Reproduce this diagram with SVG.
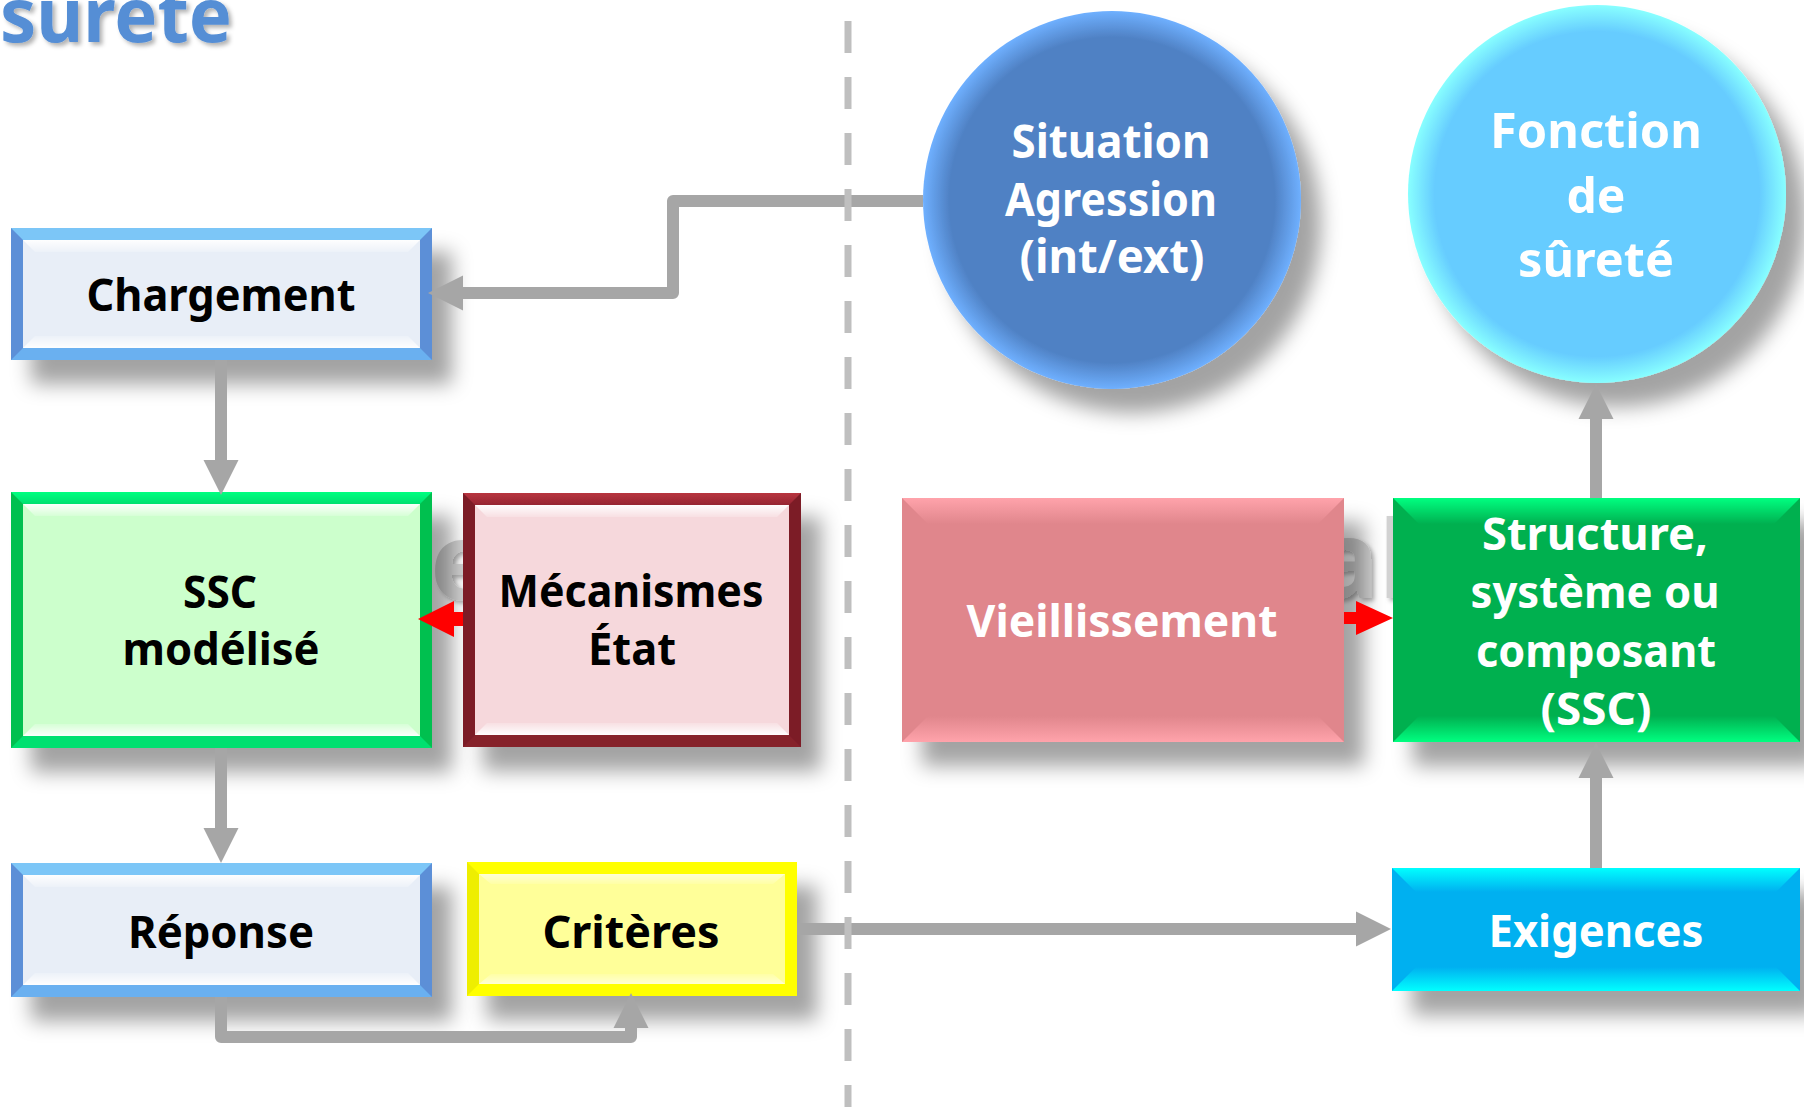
<svg xmlns="http://www.w3.org/2000/svg" width="1804" height="1107" viewBox="0 0 1804 1107">
<defs>
<style>
.t{font-family:"Noto Sans","Open Sans","DejaVu Sans",sans-serif;font-weight:bold;text-anchor:middle}
.tb{fill:#000;font-size:45px}
.tw{fill:#fff;font-size:45px}
.tc{fill:#fff;font-size:46px}
.tf{fill:#fff;font-size:49px}
.ghost{font-family:"Noto Sans","DejaVu Sans",sans-serif;font-weight:bold;font-size:108px;fill:#d2d2d2}
.conn{fill:none;stroke:#a6a6a6;stroke-width:12;stroke-linejoin:round}
.red{fill:#ff0000}
.dash{stroke:#bfbfbf;stroke-width:7;stroke-dasharray:32 24;fill:none}
</style>
<filter id="sh" x="-20%" y="-20%" width="150%" height="160%">
<feDropShadow dx="20" dy="24" stdDeviation="10" flood-color="#000" flood-opacity="0.36"/>
</filter>
<filter id="shs" x="-10%" y="-30%" width="130%" height="180%">
<feDropShadow dx="3" dy="3" stdDeviation="2" flood-color="#000" flood-opacity="0.3"/>
</filter>
<linearGradient id="wTop" x1="0" y1="0" x2="0" y2="1"><stop offset="0" stop-color="#fff" stop-opacity="0.95"/><stop offset="1" stop-color="#fff" stop-opacity="0.2"/></linearGradient>
<linearGradient id="wBot" x1="0" y1="1" x2="0" y2="0"><stop offset="0" stop-color="#fff" stop-opacity="0.95"/><stop offset="1" stop-color="#fff" stop-opacity="0.2"/></linearGradient>
<linearGradient id="pkT" x1="0" y1="0" x2="0" y2="1"><stop offset="0" stop-color="#ffa3ab"/><stop offset="1" stop-color="#e0868c"/></linearGradient>
<linearGradient id="pkB" x1="0" y1="1" x2="0" y2="0"><stop offset="0" stop-color="#ffa3ab"/><stop offset="1" stop-color="#e0868c"/></linearGradient>
<linearGradient id="gnT" x1="0" y1="0" x2="0" y2="1"><stop offset="0" stop-color="#00ff80"/><stop offset="1" stop-color="#00b050"/></linearGradient>
<linearGradient id="gnB" x1="0" y1="1" x2="0" y2="0"><stop offset="0" stop-color="#00ff80"/><stop offset="1" stop-color="#00b050"/></linearGradient>
<linearGradient id="cyT" x1="0" y1="0" x2="0" y2="1"><stop offset="0" stop-color="#00ffff"/><stop offset="1" stop-color="#00b0f0"/></linearGradient>
<linearGradient id="cyB" x1="0" y1="1" x2="0" y2="0"><stop offset="0" stop-color="#00ffff"/><stop offset="1" stop-color="#00b0f0"/></linearGradient>
<linearGradient id="sgT" x1="0" y1="0" x2="0" y2="1"><stop offset="0" stop-color="#00ff80"/><stop offset="1" stop-color="#00e070"/></linearGradient>
<linearGradient id="mrT" x1="0" y1="0" x2="0" y2="1"><stop offset="0" stop-color="#b8343f"/><stop offset="1" stop-color="#962632"/></linearGradient>
<radialGradient id="sitG" cx="0.5" cy="0.5" r="0.5"><stop offset="0" stop-color="#4f81c4"/><stop offset="0.86" stop-color="#4f81c4"/><stop offset="1" stop-color="#6fb0ff"/></radialGradient>
<radialGradient id="fonG" cx="0.5" cy="0.5" r="0.5"><stop offset="0" stop-color="#66ccff"/><stop offset="0.86" stop-color="#66ccff"/><stop offset="1" stop-color="#88ffff"/></radialGradient>
<marker id="ah" markerUnits="userSpaceOnUse" markerWidth="36" markerHeight="36" viewBox="0 0 36 36" refX="1" refY="18" orient="auto">
<path d="M0,0.5 L35,18 L0,35.5 z" fill="#a6a6a6"/>
</marker>
</defs>
<rect width="1804" height="1107" fill="#fff"/>

<text class="t" x="0" y="42" style="font-size:76px;fill:#558ed5;text-anchor:start" textLength="232" lengthAdjust="spacingAndGlyphs" filter="url(#shs)">surete</text>

<text class="ghost" x="430" y="600" filter="url(#shs)">e</text>
<text class="ghost" x="1314" y="598" filter="url(#shs)">al</text>

<g id="node-chargement" filter="url(#sh)">
<rect x="11" y="228" width="421" height="132" fill="#5b8fd7"/>
<polygon points="11,228 432,228 420,240 23,240" fill="#7cc6f7"/>
<polygon points="11,360 432,360 420,348 23,348" fill="#6ab0f0"/>
<rect x="23" y="240" width="397" height="108" fill="#e8eef7"/>
<polygon points="23,240 420,240 408,252 35,252" fill="url(#wTop)"/>
<polygon points="23,348 420,348 408,336 35,336" fill="url(#wBot)"/>
</g>
<text class="t tb" x="221" y="311" textLength="269" lengthAdjust="spacingAndGlyphs">Chargement</text>

<g id="node-ssc-modelise" filter="url(#sh)">
<rect x="11" y="492" width="421" height="256" fill="#00c050"/>
<polygon points="11,492 432,492 420,504 23,504" fill="url(#sgT)"/>
<polygon points="11,748 432,748 420,736 23,736" fill="#00e070"/>
<rect x="23" y="504" width="397" height="232" fill="#ccffcc"/>
<polygon points="23,504 420,504 408,516 35,516" fill="url(#wTop)"/>
<polygon points="23,736 420,736 408,724 35,724" fill="url(#wBot)"/>
</g>
<text class="t tb" x="220" y="608" textLength="74" lengthAdjust="spacingAndGlyphs">SSC</text>
<text class="t tb" x="221" y="665" textLength="197" lengthAdjust="spacingAndGlyphs">modélisé</text>

<g id="node-mecanismes" filter="url(#sh)">
<rect x="463" y="493" width="338" height="254" fill="#7b1c27"/>
<polygon points="463,493 801,493 789,505 475,505" fill="url(#mrT)"/>
<polygon points="463,747 801,747 789,735 475,735" fill="#86202c"/>
<rect x="475" y="505" width="314" height="230" fill="#f6d8dc"/>
<polygon points="475,505 789,505 777,517 487,517" fill="url(#wTop)"/>
<polygon points="475,735 789,735 777,723 487,723" fill="url(#wBot)"/>
</g>
<text class="t tb" x="631" y="607" textLength="265" lengthAdjust="spacingAndGlyphs">Mécanismes</text>
<text class="t tb" x="632" y="665" textLength="88" lengthAdjust="spacingAndGlyphs">État</text>

<g id="node-reponse" filter="url(#sh)">
<rect x="11" y="863" width="421" height="134" fill="#5b8fd7"/>
<polygon points="11,863 432,863 420,875 23,875" fill="#7cc6f7"/>
<polygon points="11,997 432,997 420,985 23,985" fill="#6ab0f0"/>
<rect x="23" y="875" width="397" height="110" fill="#e8eef7"/>
<polygon points="23,875 420,875 408,887 35,887" fill="url(#wTop)"/>
<polygon points="23,985 420,985 408,973 35,973" fill="url(#wBot)"/>
</g>
<text class="t tb" x="221" y="948" textLength="186" lengthAdjust="spacingAndGlyphs">Réponse</text>

<g id="node-criteres" filter="url(#sh)">
<rect x="467" y="862" width="330" height="134" fill="#ffff00"/>
<polygon points="467,862 479,874 479,984 467,996" fill="#eeee00"/>
<rect x="479" y="874" width="306" height="110" fill="#ffff99"/>
<polygon points="479,874 785,874 773,884 491,884" fill="url(#wTop)" opacity="0.6"/>
<polygon points="479,984 785,984 773,974 491,974" fill="url(#wBot)" opacity="0.6"/>
</g>
<text class="t tb" x="631" y="948" textLength="177" lengthAdjust="spacingAndGlyphs">Critères</text>

<g id="node-situation" filter="url(#sh)">
<circle cx="1112" cy="200" r="189" fill="url(#sitG)"/>
</g>
<text class="t tc" x="1111" y="158" textLength="199" lengthAdjust="spacingAndGlyphs">Situation</text>
<text class="t tc" x="1111" y="216" textLength="212" lengthAdjust="spacingAndGlyphs">Agression</text>
<text class="t tc" x="1112" y="273" textLength="185" lengthAdjust="spacingAndGlyphs">(int/ext)</text>

<g id="node-fonction" filter="url(#sh)">
<circle cx="1597" cy="194" r="189" fill="url(#fonG)"/>
</g>
<text class="t tf" x="1596" y="148" textLength="212" lengthAdjust="spacingAndGlyphs">Fonction</text>
<text class="t tf" x="1596" y="213" textLength="59" lengthAdjust="spacingAndGlyphs">de</text>
<text class="t tf" x="1596" y="277" textLength="156" lengthAdjust="spacingAndGlyphs">sûreté</text>

<g id="node-vieillissement" filter="url(#sh)">
<rect x="902" y="498" width="442" height="244" fill="#e0868c"/>
<polygon points="902,498 1344,498 1318,524 928,524" fill="url(#pkT)"/>
<polygon points="902,742 1344,742 1318,716 928,716" fill="url(#pkB)"/>
</g>
<text class="t tw" x="1122" y="637" textLength="311" lengthAdjust="spacingAndGlyphs">Vieillissement</text>

<g id="node-structure" filter="url(#sh)">
<rect x="1393" y="498" width="407" height="244" fill="#00b050"/>
<polygon points="1393,498 1800,498 1774,524 1419,524" fill="url(#gnT)"/>
<polygon points="1393,742 1800,742 1774,716 1419,716" fill="url(#gnB)"/>
</g>
<text class="t tw" x="1595" y="550" textLength="226" lengthAdjust="spacingAndGlyphs">Structure,</text>
<text class="t tw" x="1595" y="608" textLength="249" lengthAdjust="spacingAndGlyphs">système ou</text>
<text class="t tw" x="1596" y="667" textLength="240" lengthAdjust="spacingAndGlyphs">composant</text>
<text class="t tw" x="1596" y="725" textLength="111" lengthAdjust="spacingAndGlyphs">(SSC)</text>

<g id="node-exigences" filter="url(#sh)">
<rect x="1392" y="868" width="408" height="123" fill="#00b0f0"/>
<polygon points="1392,868 1800,868 1776,892 1416,892" fill="url(#cyT)"/>
<polygon points="1392,991 1800,991 1776,967 1416,967" fill="url(#cyB)"/>
</g>
<text class="t tw" x="1596" y="947" textLength="215" lengthAdjust="spacingAndGlyphs">Exigences</text>

<g id="connectors">
<path class="conn" d="M923,201 H673 V293 H462" marker-end="url(#ah)"/>
<path class="conn" d="M221,360 V461" marker-end="url(#ah)"/>
<path class="conn" d="M221,748 V829" marker-end="url(#ah)"/>
<path class="conn" d="M221,997 V1037 H631 V1027" marker-end="url(#ah)"/>
<path class="conn" d="M797,929 H1357" marker-end="url(#ah)"/>
<path class="conn" d="M1596,868 V777" marker-end="url(#ah)"/>
<path class="conn" d="M1596,498 V418" marker-end="url(#ah)"/>
<polygon class="red" points="463,612 454,612 454,601 418,619 454,637 454,626 463,626"/>
<polygon class="red" points="1344,612 1356,612 1356,601 1393,618 1356,635 1356,624 1344,624"/>
<line class="dash" x1="848" y1="21" x2="848" y2="1107"/>
</g>
</svg>
